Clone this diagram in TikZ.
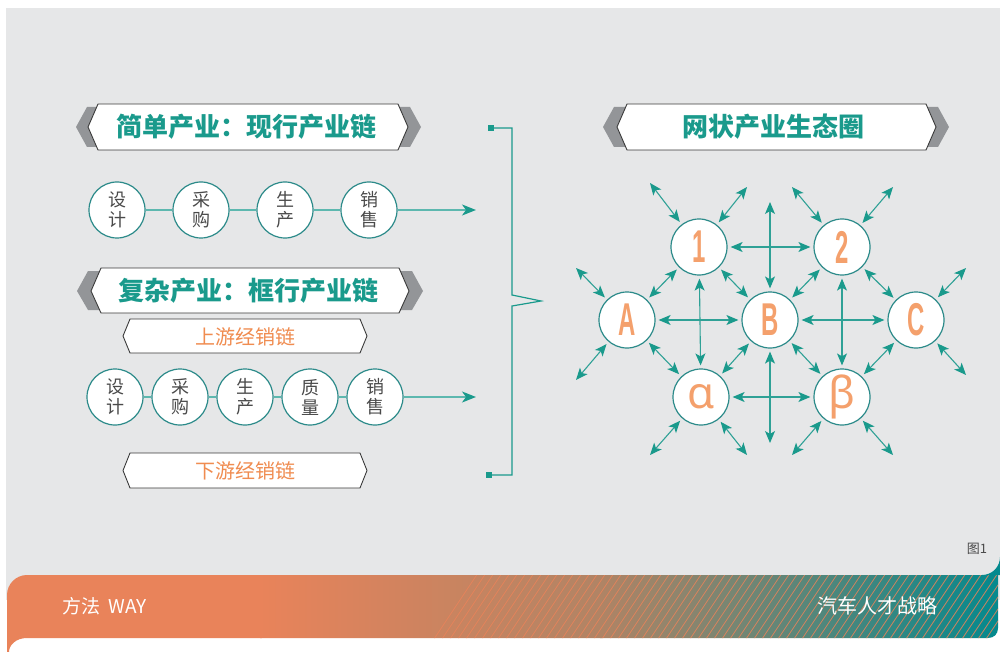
\documentclass[tikz,border=0pt]{standalone}
\usepackage{fontspec}
\setmainfont{Liberation Sans}
\newfontfamily\cjk{Noto Sans CJK SC}
\newfontfamily\cond[FakeStretch=0.52]{Liberation Sans}
\newfontfamily\greekf{Noto Sans}
\usetikzlibrary{arrows.meta}
\definecolor{bg}{HTML}{E6E7E8}
\definecolor{tealT}{HTML}{1A9A8C}
\definecolor{tealC}{HTML}{2B8A89}
\definecolor{tealL}{HTML}{5DB8AF}
\definecolor{tealA}{HTML}{2FA196}
\definecolor{grayB}{HTML}{939598}
\definecolor{hexline}{HTML}{3A3A3A}
\definecolor{orT}{HTML}{F08C50}
\definecolor{orL}{HTML}{F4A06C}
\definecolor{bandor}{HTML}{E9835A}
\definecolor{bandmid}{HTML}{B08465}
\definecolor{bandteal}{HTML}{03898E}
\definecolor{txtg}{HTML}{4A4A4A}
\tikzset{
  hexw/.style={fill=white,draw=hexline,line width=0.9pt},
  titletext/.style={font=\cjk\bfseries\fontsize{26}{26}\selectfont,text=tealT,inner sep=0pt},
  subtext/.style={font=\cjk\fontsize{20}{20}\selectfont,text=orT,inner sep=0pt},
  cc/.style={circle,draw=tealC,line width=1.2pt,fill=white,minimum size=56pt,inner sep=0pt,
     align=center,font=\cjk\fontsize{18}{20}\selectfont,text=txtg},
  nn/.style={circle,draw=tealC,line width=1.2pt,fill=white,minimum size=56pt,inner sep=0pt,text=orL},
  lab/.style={font=\cond\bfseries\fontsize{46}{46}\selectfont},
  glab/.style={font=\greekf\fontsize{44}{44}\selectfont},
  conn/.style={draw=tealL,line width=1.5pt},
  conarrow/.style={draw=tealL,line width=1.5pt,-{Stealth[length=14pt,width=11pt,inset=4pt,color=tealT,fill=tealT]}},
  bi/.style={draw=tealA,line width=1.1pt,
     {Stealth[length=12pt,width=10pt,inset=3pt,color=tealT,fill=tealT]}-{Stealth[length=12pt,width=10pt,inset=3pt,color=tealT,fill=tealT]},
     shorten <=3pt,shorten >=3pt},
  biout/.style={draw=tealA,line width=1.1pt,
     {Stealth[length=12pt,width=10pt,inset=3pt,color=tealT,fill=tealT]}-{Stealth[length=12pt,width=10pt,inset=3pt,color=tealT,fill=tealT]},
     shorten <=3pt},
  sq/.style={fill=tealT,minimum size=6pt,inner sep=0pt},
  brk/.style={draw=tealT,line width=1.2pt},
  foot/.style={font=\cjk\fontsize{19}{19}\selectfont,text=white,inner sep=0pt}
}
\begin{document}
\begin{tikzpicture}[x=1pt,y=-1pt]
\useasboundingbox (0,0) rectangle (1000,652);
\fill[white] (0,0) rectangle (1000,652);
\fill[bg] (6,8) rectangle (1000,600);

% footer band
\begin{scope}
\clip (7,652) -- (7,595) .. controls (7,584) and (16,575) .. (27,575) -- (998,575) -- (998,628)
   .. controls (998,634) and (994,638) .. (988,638) -- (27,638) .. controls (16,638) and (9,645) .. (9,652) -- cycle;
\fill[bandor] (0,560) rectangle (262,652);
\shade[left color=bandor,right color=bandmid] (260,560) rectangle (602,652);
\shade[left color=bandmid,right color=bandteal] (600,560) rectangle (1000,652);
\foreach \i in {0,...,75} {
  \draw[bandor,line width=0.8pt,opacity=0.85] (430+8*\i,645) -- ++(50,-75);
}
\end{scope}
\fill[bandteal] (982,575) .. controls (992,575) and (1000,567) .. (1000,557) -- (1000,575) -- cycle;
\node[foot,anchor=west] (fl) at (62,606) {方法\ \ WAY};
\node[foot,anchor=east,font=\cjk\fontsize{20}{20}\selectfont] (fr) at (938,606) {汽车人才战略};
\node[font=\cjk\fontsize{13}{13}\selectfont,text=txtg,inner sep=0pt] (fig) at (977,549) {图1};

% banner 1
\fill[grayB] (76,127) -- (87,107) -- (410,107) -- (421,127) -- (410,147) -- (87,147) -- cycle;
\draw[hexw] (88,127) -- (98,104) -- (398,104) -- (408,127) -- (398,150) -- (98,150) -- cycle;
\node[titletext] (t1) at (246,127) {简单产业：现行产业链};

% row 1
\node[cc] (a1) at (117,210) {设\\计};
\node[cc] (a2) at (201,210) {采\\购};
\node[cc] (a3) at (285,210) {生\\产};
\node[cc] (a4) at (369,210) {销\\售};
\coordinate (ae) at (476,210);
\draw[conn] (a1) -- (a2);
\draw[conn] (a2) -- (a3);
\draw[conn] (a3) -- (a4);
\draw[conarrow] (a4) -- (ae);

% banner 2
\fill[grayB] (77,291) -- (88,271) -- (412,271) -- (423,291) -- (412,310) -- (88,310) -- cycle;
\draw[hexw] (91,291) -- (101,268) -- (399,268) -- (409,291) -- (399,313) -- (101,313) -- cycle;
\node[titletext] (t2) at (248,291) {复杂产业：框行产业链};

\draw[hexw] (123,336) -- (130,319) -- (360,319) -- (367,336) -- (360,353) -- (130,353) -- cycle;
\node[subtext] (up) at (245,337) {上游经销链};
\draw[hexw] (123,470.5) -- (130,453) -- (360,453) -- (367,470.5) -- (360,488) -- (130,488) -- cycle;
\node[subtext] (down) at (245,471) {下游经销链};

% row 2
\node[cc] (b1) at (115,397) {设\\计};
\node[cc] (b2) at (180,397) {采\\购};
\node[cc] (b3) at (245,397) {生\\产};
\node[cc] (b4) at (310,397) {质\\量};
\node[cc] (b5) at (375,397) {销\\售};
\coordinate (be) at (476,397);
\draw[conn] (b1) -- (b2);
\draw[conn] (b2) -- (b3);
\draw[conn] (b3) -- (b4);
\draw[conn] (b4) -- (b5);
\draw[conarrow] (b5) -- (be);

% bracket
\node[sq] (bt) at (491,128) {};
\node[sq] (bb) at (489,475) {};
\coordinate (k1) at (512,128);
\coordinate (k2) at (512,295);
\coordinate (k3) at (541,301);
\coordinate (k4) at (512,306);
\coordinate (k5) at (512,475);
\draw[brk] (bt.center) -- (k1) -- (k2) -- (k3) -- (k4) -- (k5) -- (bb.center);

% right banner
\fill[grayB] (603,127) -- (614,107) -- (938,107) -- (949,127) -- (938,147) -- (614,147) -- cycle;
\draw[hexw] (617,127) -- (627,104) -- (926,104) -- (936,127) -- (926,150) -- (627,150) -- cycle;
\node[titletext] (t3) at (773,127) {网状产业生态圈};

% network nodes
\node[nn,lab] (n1) at (699,247) {1};
\node[nn,lab] (n2) at (842,247) {2};
\node[nn,lab] (nA) at (627,320) {A};
\node[nn,lab] (nB) at (770,320) {B};
\node[nn,lab] (nC) at (916,320) {C};
\node[nn,glab] (na) at (701,397) {α};
\node[nn,glab] (nb) at (842,397) {β};

% crossing arrows
\coordinate (vt) at (770,202);
\coordinate (vb) at (770,443);
\draw[bi] (n1) -- (n2);
\draw[bi] (nA) -- (nB);
\draw[bi] (nB) -- (nC);
\draw[bi] (na) -- (nb);
\draw[bi] (n1) -- (na);
\draw[bi] (n2) -- (nb);
\draw[biout] (nB) -- (vt);
\draw[biout] (nB) -- (vb);

% diagonal node-to-node
\draw[bi] (n1) -- (nA);
\draw[bi] (n1) -- (nB);
\draw[bi] (n2) -- (nB);
\draw[bi] (n2) -- (nC);
\draw[bi] (nA) -- (na);
\draw[bi] (nB) -- (na);
\draw[bi] (nB) -- (nb);
\draw[bi] (nC) -- (nb);

% outward
\coordinate (o1) at (650,183);
\coordinate (o2) at (747,187);
\coordinate (o3) at (792,187);
\coordinate (o4) at (893,187);
\coordinate (o5) at (576,268);
\coordinate (o6) at (576,380);
\coordinate (o7) at (966,268);
\coordinate (o8) at (966,375);
\coordinate (o9) at (650,455);
\coordinate (o10) at (747,455);
\coordinate (o11) at (792,455);
\coordinate (o12) at (893,455);
\draw[biout] (n1) -- (o1);
\draw[biout] (n1) -- (o2);
\draw[biout] (n2) -- (o3);
\draw[biout] (n2) -- (o4);
\draw[biout] (nA) -- (o5);
\draw[biout] (nA) -- (o6);
\draw[biout] (nC) -- (o7);
\draw[biout] (nC) -- (o8);
\draw[biout] (na) -- (o9);
\draw[biout] (na) -- (o10);
\draw[biout] (nb) -- (o11);
\draw[biout] (nb) -- (o12);
\end{tikzpicture}
\end{document}
